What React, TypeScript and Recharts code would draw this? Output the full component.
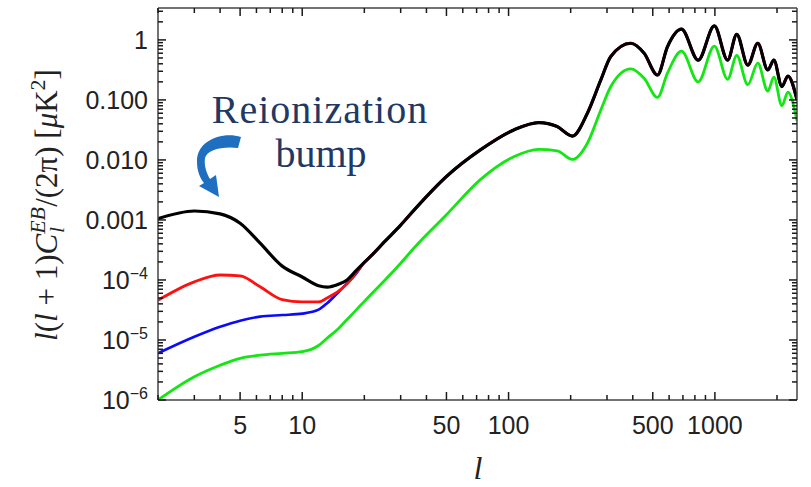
import React from "react";
import { LineChart, Line, XAxis, YAxis, Customized } from "recharts";

// multipoles l (log axis)
const ells = [
  2, 3, 4, 5, 6.25, 8, 10, 12, 13.2, 15,
  16.5, 18, 20, 22, 25, 30, 35, 50, 73, 106,
  140, 172, 204, 241, 280, 313, 391, 454, 527, 589,
  689, 830, 994, 1153, 1276, 1444, 1614, 1804, 1931, 2112,
  2259, 2500,
];

// l(l+1)C_l^EB/2pi in uK^2
const blackVals = [
  1.05e-3, 1.41e-3, 1.26e-3, 8.8e-4, 4.1e-4, 1.7e-4, 1.12e-4, 8.0e-5, 7.6e-5, 8.5e-5,
  1.0e-4, 1.36e-4, 1.96e-4, 2.7e-4, 4.3e-4, 8.2e-4, 1.49e-3, 5.3e-3, 1.47e-2, 3.16e-2,
  4.2e-2, 3.6e-2, 2.5e-2, 6.0e-2, 0.215, 0.53, 0.88, 0.6, 0.26, 0.77,
  1.51, 0.46, 1.71, 0.46, 1.24, 0.38, 0.88, 0.316, 0.46, 0.167,
  0.25, 0.1,
];
// red and blue only differ from black at low l (l <= 18), then they follow it
const redLow = [4.6e-5, 9.3e-5, 1.21e-4, 1.17e-4, 7.7e-5, 4.7e-5, 4.3e-5, 4.3e-5, 5.0e-5, 6.5e-5, 8.6e-5, 1.25e-4];
const blueLow = [6.0e-6, 1.13e-5, 1.66e-5, 2.1e-5, 2.45e-5, 2.6e-5, 2.75e-5, 3.2e-5, 4.1e-5, 6.3e-5, 8.8e-5, 1.2e-4];
const greenVals = [
  1.0e-6, 2.44e-6, 3.8e-6, 4.95e-6, 5.6e-6, 6.0e-6, 6.4e-6, 8.1e-6, 1.07e-5, 1.56e-5,
  2.2e-5, 3.0e-5, 4.4e-5, 6.2e-5, 9.7e-5, 1.9e-4, 3.48e-4, 1.22e-3, 4.7e-3, 1.13e-2,
  1.5e-2, 1.42e-2, 1.02e-2, 1.9e-2, 0.068, 0.167, 0.33, 0.23, 0.11, 0.28,
  0.65, 0.2, 0.79, 0.22, 0.55, 0.18, 0.41, 0.14, 0.24, 0.08,
  0.135, 0.045,
];

const xMajor = [5, 10, 50, 100, 500, 1000];
const xMajorLabels = ["5", "10", "50", "100", "500", "1000"];
const xAllTicks = [2, 3, 4, 5, 6, 7, 8, 9, 10, 20, 30, 40, 50, 60, 70, 80, 90, 100, 200, 300, 400, 500, 600, 700, 800, 900, 1000, 2000];

const yMajor = [1e-6, 1e-5, 1e-4, 1e-3, 1e-2, 1e-1, 1];
const yMajorLabels = ["10^−6", "10^−5", "10^−4", "0.001", "0.010", "0.100", "1"];
const yDecades = [-6, -5, -4, -3, -2, -1, 0];
const minorMult = [2, 3, 4, 5, 6, 7, 8, 9];

const Y_MIN = 1e-6;
const Y_MAX = 3.4;

const rows = ells.map((l, i) => ({
  l,
  black: blackVals[i],
  red: i < redLow.length ? redLow[i] : blackVals[i],
  blue: i < blueLow.length ? blueLow[i] : blackVals[i],
  green: greenVals[i],
}));

const yAllTicks = yDecades
  .flatMap((d) => [1, ...minorMult].map((m) => m * Math.pow(10, d)))
  .filter((v) => v <= Y_MAX);

const same = (a: number, b: number) => Math.abs(Math.log10(a) - Math.log10(b)) < 1e-6;

const TICK = "#1a1a1a";
const LABEL = "#222";
const FRAME = { stroke: "#444", strokeWidth: 1.5 };
const SANS = "'Liberation Sans', Arial, sans-serif";
const SERIF = "'Liberation Serif', 'Times New Roman', serif";

// frame ticks point inward, majors longer than minors
function FrameTick(props: any) {
  const side: string = props.side;
  const x = Number(props.x);
  const y = Number(props.y);
  const v = Number(props.payload?.value);
  if (side === "bottom" || side === "top") {
    const idx = xMajor.findIndex((m) => same(m, v));
    const len = idx >= 0 ? 8 : 5;
    const dir = side === "bottom" ? -1 : 1;
    return (
      <g>
        <path d={`M${x},${y}V${y + dir * len}`} stroke={TICK} strokeWidth={1.5} fill="none" />
        {side === "bottom" && idx >= 0 && (
          <text x={x} y={y + 34} textAnchor="middle" fontFamily={SANS} fontSize={25} fill={LABEL}>
            {xMajorLabels[idx]}
          </text>
        )}
      </g>
    );
  }
  const idx = yMajor.findIndex((m) => same(m, v));
  const len = idx >= 0 ? 8 : 5;
  const dir = side === "left" ? 1 : -1;
  let label = null;
  if (side === "left" && idx >= 0) {
    const [base, exp] = yMajorLabels[idx].split("^");
    label = (
      <text x={x - 10} y={y + 9} textAnchor="end" fontFamily={SANS} fontSize={25} fill={LABEL}>
        <tspan>{base}</tspan>
        {exp && (
          <tspan fontSize={16} dy={-10}>
            {exp}
          </tspan>
        )}
      </text>
    );
  }
  return (
    <g>
      <path d={`M${x},${y}H${x + dir * len}`} stroke={TICK} strokeWidth={1.5} fill="none" />
      {label}
    </g>
  );
}

function Annotations() {
  return (
    <g>
      <text x={320} y={123} textAnchor="middle" fontFamily={SERIF} fontSize={40} letterSpacing={1} fill="#1f3864">
        Reionization
      </text>
      <text x={321} y={167} textAnchor="middle" fontFamily={SERIF} fontSize={40} fill="#1f3864">
        bump
      </text>
      <path
        d="M 241 137 C 222 131, 196 141, 197 162 C 197 171, 200 178, 204 183 L 199 186 L 219 197 L 216 175 L 210 179 C 206 172, 204 165, 205 158 C 207 150, 222 146, 238 148 Z"
        fill="#1f6fc0"
      />
      <text
        x={57}
        y={205}
        transform="rotate(-90 57 205)"
        textAnchor="middle"
        fontFamily={SERIF}
        fontSize={31}
        fill={LABEL}
      >
        <tspan fontStyle="italic">l</tspan>
        <tspan>(</tspan>
        <tspan fontStyle="italic">l</tspan>
        <tspan> + 1)</tspan>
        <tspan fontStyle="italic">C</tspan>
        <tspan fontStyle="italic" fontSize={22} dy={-12}>EB</tspan>
        <tspan fontStyle="italic" fontSize={22} dx={-26} dy={19}>l</tspan>
        <tspan dx={20} dy={-7}>/(2π) [</tspan>
        <tspan fontStyle="italic">μ</tspan>
        <tspan>K</tspan>
        <tspan fontSize={22} dy={-12}>2</tspan>
        <tspan dy={12}>]</tspan>
      </text>
      <text x={478} y={479} textAnchor="middle" fontFamily={SERIF} fontStyle="italic" fontSize={32} fill={LABEL}>
        l
      </text>
    </g>
  );
}

const tickFor = (side: string) => (p: any) => <FrameTick {...p} side={side} />;

export default function App() {
  return (
    <div style={{ position: "absolute", left: 0, top: 0, width: 811, height: 487, background: "#fff" }}>
      <LineChart width={811} height={487} data={rows} margin={{ top: 7, right: 13, bottom: 0, left: 0 }}>
        <XAxis
          xAxisId="b"
          dataKey="l"
          type="number"
          scale="log"
          domain={[2, 2500]}
          allowDataOverflow
          ticks={xAllTicks}
          interval={0}
          height={87}
          tickSize={0}
          tickMargin={0}
          tickLine={false}
          axisLine={FRAME}
          tick={tickFor("bottom")}
        />
        <XAxis
          xAxisId="t"
          orientation="top"
          dataKey="l"
          type="number"
          scale="log"
          domain={[2, 2500]}
          allowDataOverflow
          ticks={xAllTicks}
          interval={0}
          height={1}
          tickSize={0}
          tickMargin={0}
          tickLine={false}
          axisLine={FRAME}
          tick={tickFor("top")}
        />
        <YAxis
          yAxisId="l"
          type="number"
          scale="log"
          domain={[Y_MIN, Y_MAX]}
          allowDataOverflow
          ticks={yAllTicks}
          interval={0}
          width={158}
          tickSize={0}
          tickMargin={0}
          tickLine={false}
          axisLine={FRAME}
          tick={tickFor("left")}
        />
        <YAxis
          yAxisId="r"
          orientation="right"
          type="number"
          scale="log"
          domain={[Y_MIN, Y_MAX]}
          allowDataOverflow
          ticks={yAllTicks}
          interval={0}
          width={1}
          tickSize={0}
          tickMargin={0}
          tickLine={false}
          axisLine={FRAME}
          tick={tickFor("right")}
        />
        <Line xAxisId="b" yAxisId="l" type="monotone" dataKey="green" stroke="#14e614" strokeWidth={2.8} dot={false} isAnimationActive={false} />
        <Line xAxisId="b" yAxisId="l" type="monotone" dataKey="blue" stroke="#0a0aff" strokeWidth={2.6} dot={false} isAnimationActive={false} />
        <Line xAxisId="b" yAxisId="l" type="monotone" dataKey="red" stroke="#ff1010" strokeWidth={2.8} dot={false} isAnimationActive={false} />
        <Line xAxisId="b" yAxisId="l" type="monotone" dataKey="black" stroke="#000" strokeWidth={3.2} dot={false} isAnimationActive={false} />
        <Customized component={Annotations} />
      </LineChart>
    </div>
  );
}
